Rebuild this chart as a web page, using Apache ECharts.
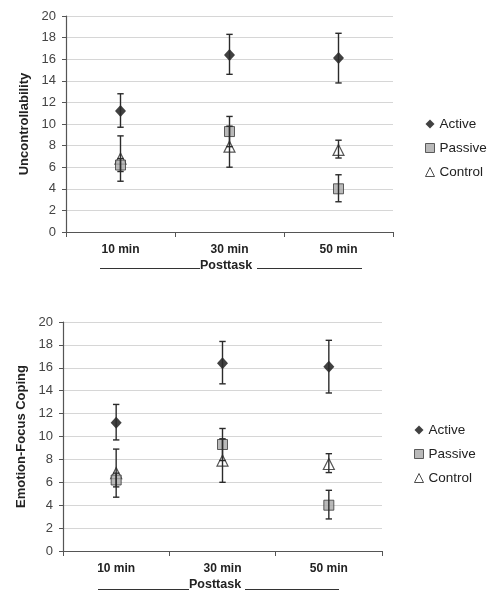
<!DOCTYPE html>
<html>
<head>
<meta charset="utf-8">
<script src="https://cdn.jsdelivr.net/npm/echarts@6/dist/echarts.min.js"></script>
<style>
html,body{margin:0;padding:0;background:#fff;}
#c{width:492px;height:601px;}
</style>
</head>
<body>
<div id="c"></div>
<script>
// ---- data ----
var categories = ['10 min', '30 min', '50 min'];
var yTicks = [0, 2, 4, 6, 8, 10, 12, 14, 16, 18, 20];
var activeMean = [11.2, 16.4, 16.1];
var activeLow  = [9.7, 14.6, 13.8];
var activeHigh = [12.8, 18.3, 18.4];
var passiveMean = [6.2, 9.3, 4.0];
var passiveLow  = [5.6, 7.9, 2.8];
var passiveHigh = [6.8, 10.7, 5.3];
var controlMean = [6.8, 7.9, 7.6];
var controlLow  = [4.7, 6.0, 6.85];
var controlHigh = [8.9, 9.8, 8.5];
var yTitles = ['Uncontrollability', 'Emotion-Focus Coping'];
var groupNames = ['Active', 'Passive', 'Control'];
var xGroupTitle = 'Posttask';

var chart = echarts.init(document.getElementById('c'), null, {renderer: 'canvas'});
var FONT = '"Liberation Sans", Arial, sans-serif';
var DARK = '#2b2b2b';

function errRender() {
  return function (params, api) {
    var i = api.value(0);
    var top = api.coord([i, api.value(2)]);
    var bot = api.coord([i, api.value(1)]);
    var x = top[0];
    var cap = 3.2;
    var st = {stroke: DARK, lineWidth: 1.4};
    return {
      type: 'group',
      children: [
        {type: 'line', shape: {x1: x, y1: top[1], x2: x, y2: bot[1]}, style: st},
        {type: 'line', shape: {x1: x - cap, y1: top[1], x2: x + cap, y2: top[1]}, style: st},
        {type: 'line', shape: {x1: x - cap, y1: bot[1], x2: x + cap, y2: bot[1]}, style: st}
      ]
    };
  };
}
function errData(low, high) {
  return categories.map(function (c, i) { return [i, low[i], high[i]]; });
}

var grids = [
  {left: 66, right: 99, top: 16, height: 216},
  {left: 63, right: 110, top: 322, height: 229}
];
var nameGaps = [33, 34];

var xAxes = [], yAxes = [], series = [], legends = [];
grids.forEach(function (g, gi) {
  xAxes.push({
    type: 'category', gridIndex: gi, data: categories, boundaryGap: true,
    axisLine: {lineStyle: {color: '#555', width: 1.2}},
    axisTick: {show: true, length: 5, lineStyle: {color: '#555'}},
    axisLabel: {fontFamily: FONT, fontSize: 12, fontWeight: 'bold', color: '#222', margin: 12},
    splitLine: {show: false}
  });
  yAxes.push({
    type: 'value', gridIndex: gi, min: yTicks[0], max: yTicks[yTicks.length - 1], interval: yTicks[1] - yTicks[0],
    name: yTitles[gi], nameLocation: 'middle', nameRotate: 90, nameGap: nameGaps[gi],
    nameTextStyle: {fontFamily: FONT, fontSize: 13, fontWeight: 'bold', color: '#222'},
    axisLine: {show: true, lineStyle: {color: '#555', width: 1.2}},
    axisTick: {show: true, length: 4, lineStyle: {color: '#555'}},
    axisLabel: {fontFamily: FONT, fontSize: 13, color: '#444', margin: 10},
    splitLine: {show: true, lineStyle: {color: '#d6d6d6', width: 1}}
  });
  series.push({
    name: groupNames[2], type: 'scatter', xAxisIndex: gi, yAxisIndex: gi, data: controlMean,
    symbol: 'triangle', symbolSize: [11, 11],
    itemStyle: {color: '#fff', borderColor: DARK, borderWidth: 1.2}, z: 3
  });
  series.push({
    name: groupNames[1], type: 'scatter', xAxisIndex: gi, yAxisIndex: gi, data: passiveMean,
    symbol: 'rect', symbolSize: [10, 10],
    itemStyle: {color: '#a8a8a8', borderColor: '#3a3a3a', borderWidth: 1}, z: 4
  });
  series.push({
    name: groupNames[0], type: 'scatter', xAxisIndex: gi, yAxisIndex: gi, data: activeMean,
    symbol: 'diamond', symbolSize: [11, 12],
    itemStyle: {color: '#111'}, z: 5
  });
  [[controlLow, controlHigh], [passiveLow, passiveHigh], [activeLow, activeHigh]].forEach(function (p) {
    series.push({
      type: 'custom', xAxisIndex: gi, yAxisIndex: gi, silent: true, z: 6,
      renderItem: errRender(), data: errData(p[0], p[1]),
      encode: {x: 0, y: [1, 2]}
    });
  });
  legends.push({
    orient: 'vertical', left: gi === 0 ? 425 : 414, top: gi === 0 ? 117 : 423, padding: 0,
    itemWidth: 9, itemHeight: 9, itemGap: 10,
    textStyle: {fontFamily: FONT, fontSize: 13.5, color: '#222', lineHeight: 14},
    data: [
      {name: groupNames[0], icon: 'diamond', itemStyle: {color: '#111'}},
      {name: groupNames[1], icon: 'rect', itemStyle: {color: '#a8a8a8', borderColor: '#3a3a3a', borderWidth: 1}},
      {name: groupNames[2], icon: 'triangle', itemStyle: {color: '#fff', borderColor: '#222', borderWidth: 1}}
    ],
    selectedMode: false
  });
});

var lineStyle = {stroke: '#333', lineWidth: 1};
var graphic = [
  {type: 'text', left: 200, top: 259, style: {text: xGroupTitle, font: 'bold 12.5px ' + FONT, fill: '#222'}},
  {type: 'line', shape: {x1: 100, y1: 268.5, x2: 200, y2: 268.5}, style: lineStyle},
  {type: 'line', shape: {x1: 257, y1: 268.5, x2: 362, y2: 268.5}, style: lineStyle},
  {type: 'text', left: 189, top: 578, style: {text: xGroupTitle, font: 'bold 12.5px ' + FONT, fill: '#222'}},
  {type: 'line', shape: {x1: 98, y1: 589.5, x2: 189, y2: 589.5}, style: lineStyle},
  {type: 'line', shape: {x1: 245, y1: 589.5, x2: 339, y2: 589.5}, style: lineStyle}
];

chart.setOption({
  animation: false,
  backgroundColor: '#fff',
  grid: grids,
  xAxis: xAxes,
  yAxis: yAxes,
  legend: legends,
  series: series,
  graphic: graphic
});
</script>
</body>
</html>
